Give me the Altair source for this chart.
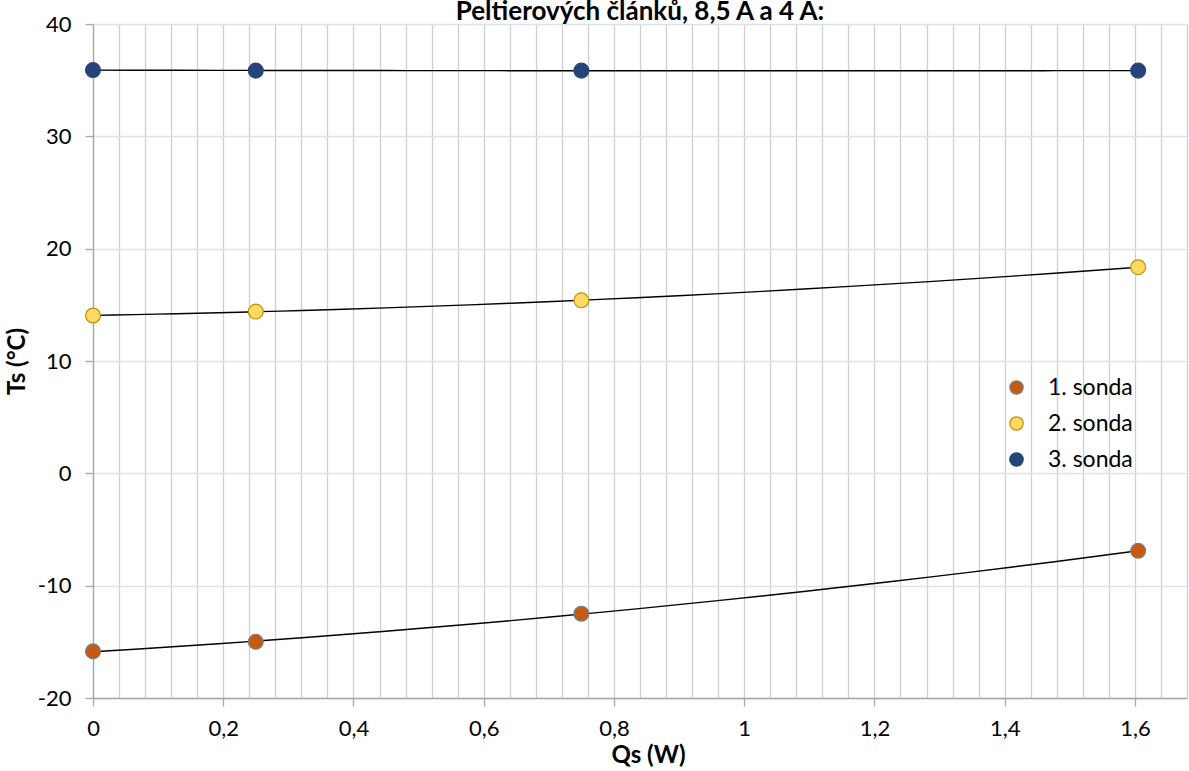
import altair as alt
import pandas as pd

# ---- data ----
qs = [0, 0.25, 0.75, 1.605]
sonda1 = [-15.85, -15.0, -12.5, -6.9]
sonda2 = [14.05, 14.4, 15.4, 18.35]
sonda3 = [35.9, 35.85, 35.85, 35.85]
series_names = ["1. sonda", "2. sonda", "3. sonda"]
fill_colors = ["#C55A11", "#FFD966", "#264478"]
stroke_colors = ["#7F7F7F", "#BF9000", "#264478"]
x_grid_values = [round(i * 0.04, 2) for i in range(0, 43)]
y_values = [-20, -10, 0, 10, 20, 30, 40]
chart_title = ["Peltierových článků, 8,5 A a 4 A:"]

rows = []
for name, vals in zip(series_names, [sonda1, sonda2, sonda3]):
    for q, t in zip(qs, vals):
        rows.append({"Qs": q, "Ts": t, "series": name})
df = pd.DataFrame(rows)
title_df = pd.DataFrame({"t": chart_title})

FONT = "Lato"

x_scale = alt.Scale(domain=[0, 1.68], nice=False, zero=False)
y_scale = alt.Scale(domain=[-20, 40], nice=False)

is_major = "abs(datum.value*5 - round(datum.value*5)) < 0.000001"

x_axis = alt.Axis(
    values=x_grid_values,
    tickCount=100,
    labelExpr=f"({is_major}) ? replace(format(datum.value, '~g'), '.', ',') : ''",
    grid=True,
    gridColor="#CFCFCF",
    gridWidth=1.3,
    tickColor={"condition": {"test": is_major, "value": "#A6A6A6"}, "value": "transparent"},
    tickSize=8,
    tickWidth=1.3,
    domainColor="#A6A6A6",
    domainWidth=1.3,
    labelFont=FONT,
    labelFontSize=22,
    labelColor="#000000",
    labelPadding=12,
    labelFlush=False,
    labelOverlap=False,
    title="Qs (W)",
    titleFont=FONT,
    titleFontSize=24,
    titleFontWeight="bold",
    titleColor="#000000",
    titleX=555,
    titlePadding=4,
)

y_axis = alt.Axis(
    values=y_values,
    labelExpr="replace(datum.label, '\u2212', '-')",
    grid=True,
    gridColor="#DCE3EF",
    gridWidth=1.3,
    tickColor="#A6A6A6",
    tickSize=8,
    tickWidth=1.3,
    domainColor="#A6A6A6",
    domainWidth=1.3,
    labelFont=FONT,
    labelFontSize=22,
    labelColor="#000000",
    labelPadding=14,
    title="Ts (°C)",
    titleFont=FONT,
    titleFontSize=24,
    titleFontWeight="bold",
    titleColor="#000000",
    titlePadding=8,
)

base = alt.Chart(df)

lines = base.transform_regression(
    "Qs", "Ts", groupby=["series"], method="poly", order=2, extent=[0, 1.605]
).mark_line(color="#000000", strokeWidth=1.4).encode(
    x=alt.X("Qs:Q", scale=x_scale, axis=x_axis),
    y=alt.Y("Ts:Q", scale=y_scale, axis=y_axis),
    detail="series:N",
)

legend = alt.Legend(
    title=None,
    orient="none",
    legendX=912,
    legendY=352,
    padding=0,
    labelFont=FONT,
    labelFontSize=23,
    labelColor="#000000",
    labelOffset=20,
    rowPadding=12,
    symbolSize=180,
    symbolStrokeWidth=1.2,
)

points = base.mark_point(filled=True, size=220, opacity=1, strokeWidth=1.2).encode(
    x=alt.X("Qs:Q", scale=x_scale),
    y=alt.Y("Ts:Q", scale=y_scale),
    fill=alt.Fill("series:N", scale=alt.Scale(domain=series_names, range=fill_colors), legend=legend),
    stroke=alt.Stroke("series:N", scale=alt.Scale(domain=series_names, range=stroke_colors), legend=legend),
    shape=alt.value("circle"),
)

title_mark = alt.Chart(title_df).mark_text(
    font=FONT,
    fontSize=26,
    fontWeight="bold",
    color="#000000",
    align="center",
    baseline="alphabetic",
).encode(
    text="t:N",
    x=alt.value(547),
    y=alt.value(-4),
)

chart = alt.layer(lines, points, title_mark).properties(
    width=1094,
    height=674,
    autosize=alt.AutoSizeParams(type="none"),
    padding={"left": 93, "top": 24, "right": 2, "bottom": 73},
).configure_view(stroke=None).configure(background="#FFFFFF")

chart.save("out.html", embed_options={"renderer": "svg", "actions": False})
